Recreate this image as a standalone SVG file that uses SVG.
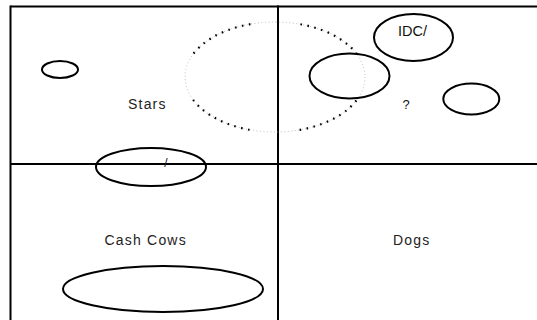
<svg xmlns="http://www.w3.org/2000/svg" width="537" height="320" viewBox="0 0 537 320">
<style>
.grid{stroke:#000;stroke-width:2;fill:none}
.oval{fill:none;stroke:#000;stroke-width:2}
.lbl{font-family:"Liberation Sans",Arial,sans-serif;font-size:14px;fill:#222;letter-spacing:1.2px}
.plain{font-family:"Liberation Sans",Arial,sans-serif;fill:#111}
</style>
<rect width="537" height="320" fill="#fff"/>
<g id="grid">
<line class="grid" x1="10.5" y1="6.5" x2="540" y2="6.5"/>
<line class="grid" x1="10.5" y1="5.5" x2="10.5" y2="325"/>
<line class="grid" x1="10.5" y1="164" x2="540" y2="164"/>
<line class="grid" x1="278" y1="5.5" x2="278" y2="325"/>
</g>
<g id="connectors"></g>
<g id="dotted-oval">
<ellipse cx="275" cy="77" rx="90" ry="55" fill="none" stroke="#aaa" stroke-width="0.8" stroke-dasharray="1 2.5"/>
<ellipse cx="275" cy="77" rx="90" ry="55" pathLength="360" fill="none" stroke="#000" stroke-width="2.2" stroke-dasharray="0 20 1.2 4.3 1.2 4.3 1.2 4.3 1.2 4.3 1.2 4.3 1.2 4.3 1.2 4.3 1.2 4.3 1.2 4.3 1.2 19.3"/>
</g>
<g id="oval-small"><ellipse class="oval" cx="60" cy="69.5" rx="18" ry="8.5"/></g>
<g id="oval-divider"><ellipse class="oval" cx="151" cy="167" rx="55" ry="19"/>
<text class="plain" x="166" y="167" font-size="12" text-anchor="middle">/</text></g>
<g id="oval-cashcow"><ellipse class="oval" cx="163" cy="289" rx="100" ry="23"/></g>
<g id="oval-idc"><ellipse class="oval" cx="413.5" cy="37.5" rx="39.5" ry="23.5"/>
<text class="plain" x="412.5" y="35.5" font-size="14.5" text-anchor="middle">IDC/</text></g>
<g id="oval-mid"><ellipse class="oval" cx="349.5" cy="76" rx="40" ry="22.5"/></g>
<g id="oval-right"><ellipse class="oval" cx="471.3" cy="99" rx="28" ry="15.5"/></g>
<g id="label-stars"><text class="lbl" x="128" y="109">Stars</text></g>
<g id="label-q"><text class="plain" x="406" y="109" font-size="13" text-anchor="middle">?</text></g>
<g id="label-cashcows"><text class="lbl" x="104.5" y="245">Cash Cows</text></g>
<g id="label-dogs"><text class="lbl" x="393" y="245">Dogs</text></g>
</svg>
